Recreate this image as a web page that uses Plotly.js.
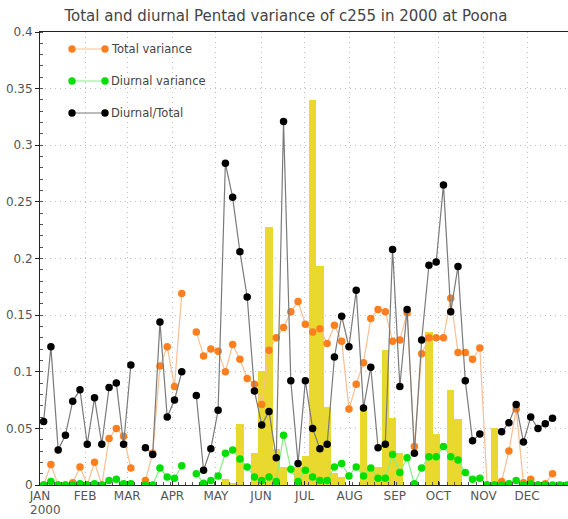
<!DOCTYPE html>
<html>
<head>
<meta charset="utf-8">
<script src="https://cdn.plot.ly/plotly-3.0.1.min.js"></script>
<style>html,body{margin:0;padding:0;background:#fff;}#chart{width:568px;height:519px;}</style>
</head>
<body>
<div id="chart"></div>
<script>
// Pentad index 1..73 (year 2000)
const pentads = Array.from({length: 73}, (_, i) => i + 1);

// Diurnal / Total ratio (black)
const ratioValues = [
  0.056, 0.122, 0.031, 0.044, 0.074, 0.084, 0.036, 0.077, 0.036, 0.086,
  0.090, 0.036, 0.106, null, 0.033, 0.027, 0.144, 0.060, 0.075, 0.100,
  null, 0.079, 0.013, 0.032, 0.066, 0.284, 0.254, 0.206, 0.166, 0.083,
  0.053, 0.065, 0.024, 0.321, 0.092, 0.019, 0.092, 0.050, 0.032, 0.036,
  0.113, 0.149, 0.122, 0.172, 0.068, 0.104, 0.033, 0.036, 0.208, 0.087,
  0.155, 0.028, 0.128, 0.194, 0.197, 0.265, 0.153, 0.193, 0.092, 0.039,
  0.045, null, null, 0.047, 0.055, 0.071, 0.038, 0.060, 0.050, 0.054,
  0.059, null, null
];

// Total variance (orange)
const totalValues = [
  0.000, 0.018, 0.000, 0.000, 0.002, 0.016, 0.000, 0.020, 0.000, 0.041,
  0.050, 0.043, 0.015, null, 0.004, 0.028, 0.105, 0.122, 0.087, 0.169,
  null, 0.135, 0.114, 0.120, 0.118, 0.100, 0.124, 0.111, 0.094, 0.089,
  0.071, 0.119, 0.130, 0.139, 0.153, 0.162, 0.142, 0.135, 0.138, 0.125,
  0.141, 0.127, 0.067, 0.089, 0.108, 0.147, 0.155, 0.153, 0.127, 0.128,
  0.152, 0.034, 0.116, 0.130, 0.130, 0.130, 0.165, 0.117, 0.117, 0.111,
  0.121, 0.000, 0.000, 0.003, 0.030, 0.067, 0.002, 0.005, 0.000, 0.001,
  0.010, null, null
];

// Diurnal variance (green)
const diurnalValues = [
  0.000, 0.003, 0.000, 0.000, 0.000, 0.001, 0.000, 0.001, 0.000, 0.004,
  0.005, 0.001, 0.001, null, 0.000, 0.000, 0.015, 0.007, 0.006, 0.017,
  null, 0.010, 0.0015, 0.004, 0.008, 0.028, 0.031, 0.023, 0.016, 0.007,
  0.004, 0.007, 0.003, 0.044, 0.014, 0.003, 0.013, 0.007, 0.004, 0.004,
  0.016, 0.019, 0.008, 0.016, 0.008, 0.015, 0.006, 0.006, 0.027, 0.011,
  0.024, 0.001, 0.015, 0.025, 0.025, 0.034, 0.025, 0.022, 0.011, 0.005,
  0.006, 0.000, 0.000, 0.000, 0.001, 0.004, 0.000, 0.001, 0.000, 0.000,
  0.000, 0.000, 0.000
];

// Yellow bars
const barValues = [
  0, 0, 0, 0, 0, 0, 0, 0, 0, 0,
  0, 0, 0, 0, 0, 0, 0, 0, 0, 0,
  0, 0, 0, 0, 0, 0.005, 0.002, 0.054, 0, 0.028,
  0.101, 0.228, 0.032, 0.016, 0, 0.016, 0.026, 0.340, 0.193, 0.069,
  0.011, 0.007, 0, 0, 0.068, 0.016, 0.016, 0.119, 0.059, 0.028,
  0, 0, 0, 0.135, 0.045, 0, 0.084, 0.058, 0, 0,
  0, 0, 0.050, 0, 0, 0, 0, 0, 0, 0,
  0, 0, 0
];

// Month tick labels and start day (day of year, 0-based)
const monthLabels = ['JAN', 'FEB', 'MAR', 'APR', 'MAY', 'JUN', 'JUL', 'AUG', 'SEP', 'OCT', 'NOV', 'DEC'];
const monthStartDays = [0, 31, 60, 91, 121, 152, 182, 213, 244, 274, 305, 335];
const monthTickPos = monthStartDays.map(d => 0.5 + d / 5);
const yearLabel = '2000';

const legendNames = ['Total variance', 'Diurnal variance', 'Diurnal/Total'];

const FONT = 'DejaVu Sans, Liberation Sans, sans-serif';
const W = 568, H = 519;
const M = {l: 40, r: 0, t: 32, b: 34};
const pw = W - M.l - M.r, ph = H - M.t - M.b;
const px2x = px => (px - M.l) / pw;
const py2y = py => (H - M.b - py) / ph;

const orange = '#ff7f1e', orangeLine = '#f9bf93';
const green = '#00e000', greenLine = '#86ee86';
const black = '#000000', blackLine = '#7a7a7a';

const traces = [
  {type: 'bar', x: pentads, y: barValues, marker: {color: '#e9d82d', line: {width: 0}},
   width: 1, hoverinfo: 'skip', showlegend: false},
  {type: 'scatter', mode: 'lines+markers', x: pentads, y: totalValues, name: legendNames[0],
   line: {color: orangeLine, width: 1.2}, marker: {color: orange, size: 7.5}, connectgaps: false},
  {type: 'scatter', mode: 'lines+markers', x: pentads, y: diurnalValues, name: legendNames[1],
   line: {color: greenLine, width: 1.2}, marker: {color: green, size: 7.5}, connectgaps: false},
  {type: 'scatter', mode: 'lines+markers', x: pentads, y: ratioValues, name: legendNames[2],
   line: {color: blackLine, width: 1.2}, marker: {color: black, size: 7.5}, connectgaps: false}
];

// custom legend (line with marker at both ends)
const legendRows = [
  {py: 49, line: orangeLine, mark: orange, text: legendNames[0]},
  {py: 81, line: greenLine, mark: green, text: legendNames[1]},
  {py: 113, line: blackLine, mark: black, text: legendNames[2]}
];
const shapes = [], annotations = [];
legendRows.forEach(r => {
  shapes.push({type: 'line', xref: 'paper', yref: 'paper', x0: px2x(72), x1: px2x(105),
    y0: py2y(r.py), y1: py2y(r.py), line: {color: r.line, width: 1.2}});
  [72, 105].forEach(cx => {
    shapes.push({type: 'circle', xref: 'paper', yref: 'paper', xsizemode: 'pixel', ysizemode: 'pixel',
      xanchor: px2x(cx), yanchor: py2y(r.py), x0: -3.7, x1: 3.7, y0: -3.7, y1: 3.7,
      fillcolor: r.mark, line: {color: r.mark, width: 0}});
  });
  annotations.push({xref: 'paper', yref: 'paper', x: px2x(109), y: py2y(r.py), xanchor: 'left', yanchor: 'middle',
    text: r.text, showarrow: false, font: {family: FONT, size: 11.5, color: '#444'}});
});
// year under JAN
annotations.push({xref: 'paper', yref: 'paper', x: px2x(45), y: py2y(510), xanchor: 'center', yanchor: 'middle',
  text: yearLabel, showarrow: false, font: {family: FONT, size: 12, color: '#555'}});

const layout = {
  width: W, height: H,
  margin: M,
  paper_bgcolor: '#fff', plot_bgcolor: '#fff',
  showlegend: false,
  bargap: 0,
  title: {text: 'Total and diurnal Pentad variance of c255 in 2000 at Poona',
    font: {family: FONT, size: 15, color: '#444'}, x: 286 / W, xanchor: 'center',
    y: 1 - 16 / H, yanchor: 'middle'},
  xaxis: {range: [0.5, 73.13], tickmode: 'array', tickvals: monthTickPos, ticktext: monthLabels,
    showgrid: true, gridcolor: '#bdbdbd', griddash: '1px,4px', gridwidth: 1,
    showline: true, linecolor: '#222', linewidth: 1, mirror: true,
    ticks: 'inside', ticklen: 4, tickcolor: '#222', zeroline: false,
    tickfont: {family: FONT, size: 12, color: '#555'},
    minor: {dtick: 1, tick0: 0.5, ticks: 'inside', ticklen: 3, tickcolor: '#555', showgrid: false}},
  yaxis: {range: [0, 0.4], dtick: 0.05, tick0: 0,
    showgrid: true, gridcolor: '#bdbdbd', griddash: '1px,4px', gridwidth: 1,
    showline: true, linecolor: '#222', linewidth: 1, mirror: true,
    ticks: 'outside', ticklen: 4, tickcolor: '#222', zeroline: false,
    tickfont: {family: FONT, size: 12, color: '#555'},
    minor: {dtick: 0.01, ticks: 'inside', ticklen: 3, tickcolor: '#555', showgrid: false}},
  shapes: shapes,
  annotations: annotations
};

Plotly.newPlot('chart', traces, layout, {displayModeBar: false, staticPlot: true});
</script>
</body>
</html>
